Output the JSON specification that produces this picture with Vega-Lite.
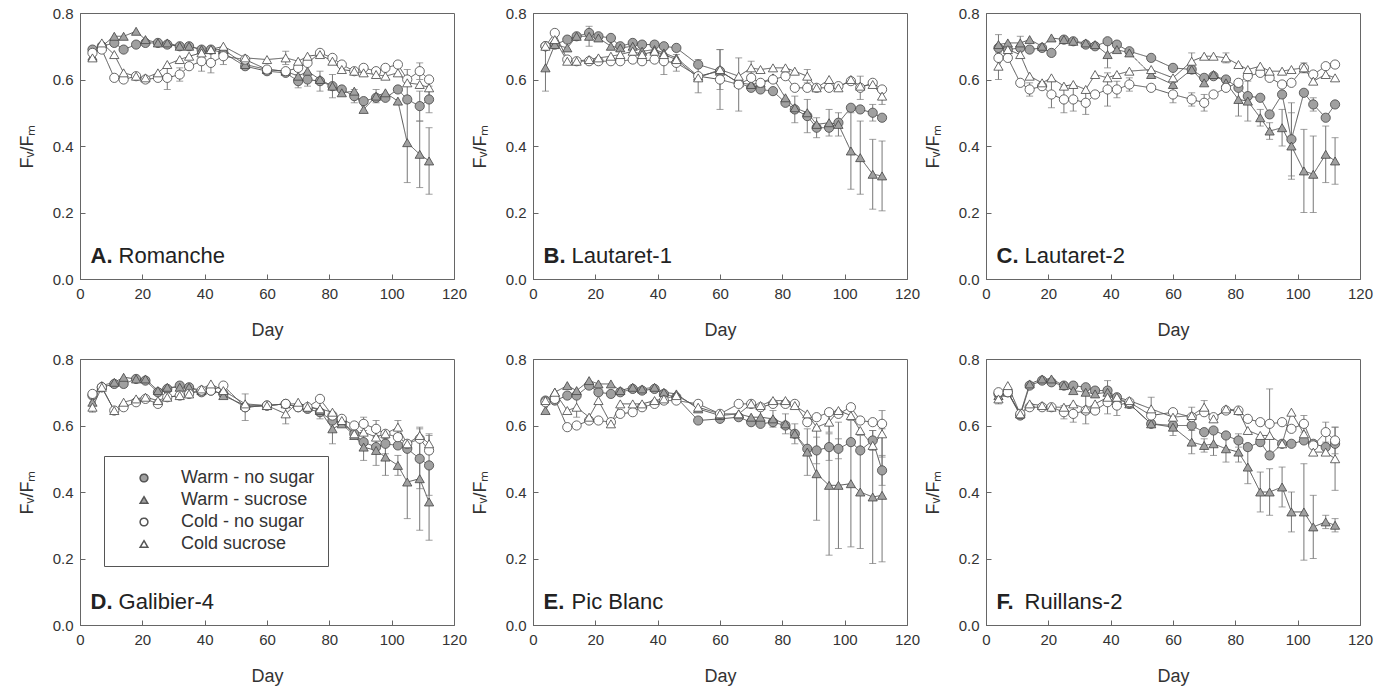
{
"$schema":"https://vega.github.io/schema/vega-lite/v6.json",
"padding":{"left":17,"top":-5,"right":5,"bottom":2},
"config":{
 "view":{"stroke":"#666","strokeWidth":1},
 "font":"Liberation Sans",
 "header":{"labels":false,"title":null,"labelExpr":"''","labelPadding":0,"titlePadding":0},
 "axis":{"grid":false,"domainColor":"#666","tickColor":"#666","tickSize":-5,"labelPadding":12,"labelFont":"Liberation Sans","labelFontSize":15,"labelColor":"#333","labelFlush":false,"labelOverlap":false,"titleFont":"Liberation Sans","titleFontSize":18,"titleFontWeight":"normal","titleColor":"#333"},
 "axisX":{"titlePadding":20},
 "axisY":{"titlePadding":16}
},
"datasets":{
"sites":[{"p":"A","l":"A.","s":"Romanche"},{"p":"B","l":"B.","s":"Lautaret-1"},{"p":"C","l":"C.","s":"Lautaret-2"},{"p":"D","l":"D.","s":"Galibier-4"},{"p":"E","l":"E.","s":"Pic Blanc"},{"p":"F","l":"F.","s":"Ruillans-2"}],
"pts":[
{"p":"A","t":"WN","d":4,"v":0.69},{"p":"A","t":"WN","d":7,"v":0.7},{"p":"A","t":"WN","d":11,"v":0.71},{"p":"A","t":"WN","d":14,"v":0.69},{"p":"A","t":"WN","d":18,"v":0.705},{"p":"A","t":"WN","d":21,"v":0.71},{"p":"A","t":"WN","d":25,"v":0.71},{"p":"A","t":"WN","d":28,"v":0.705},{"p":"A","t":"WN","d":32,"v":0.7},{"p":"A","t":"WN","d":35,"v":0.7},{"p":"A","t":"WN","d":39,"v":0.69},{"p":"A","t":"WN","d":42,"v":0.69},{"p":"A","t":"WN","d":46,"v":0.68},{"p":"A","t":"WN","d":53,"v":0.64},{"p":"A","t":"WN","d":60,"v":0.625},{"p":"A","t":"WN","d":66,"v":0.62},{"p":"A","t":"WN","d":70,"v":0.595,"e":0.02},{"p":"A","t":"WN","d":73,"v":0.6,"e":0.02},{"p":"A","t":"WN","d":77,"v":0.595,"e":0.03},{"p":"A","t":"WN","d":81,"v":0.58,"e":0.035},{"p":"A","t":"WN","d":84,"v":0.57},{"p":"A","t":"WN","d":88,"v":0.55,"e":0.02},{"p":"A","t":"WN","d":91,"v":0.535},{"p":"A","t":"WN","d":95,"v":0.545},{"p":"A","t":"WN","d":98,"v":0.545},{"p":"A","t":"WN","d":102,"v":0.57},{"p":"A","t":"WN","d":105,"v":0.54},{"p":"A","t":"WN","d":109,"v":0.52,"e":0.045},{"p":"A","t":"WN","d":112,"v":0.54,"e":0.04},
{"p":"A","t":"WS","d":4,"v":0.67},{"p":"A","t":"WS","d":7,"v":0.7},{"p":"A","t":"WS","d":11,"v":0.73},{"p":"A","t":"WS","d":14,"v":0.73},{"p":"A","t":"WS","d":18,"v":0.745},{"p":"A","t":"WS","d":21,"v":0.72},{"p":"A","t":"WS","d":25,"v":0.71},{"p":"A","t":"WS","d":28,"v":0.71},{"p":"A","t":"WS","d":32,"v":0.7},{"p":"A","t":"WS","d":35,"v":0.7},{"p":"A","t":"WS","d":39,"v":0.69},{"p":"A","t":"WS","d":42,"v":0.69},{"p":"A","t":"WS","d":46,"v":0.69},{"p":"A","t":"WS","d":53,"v":0.645},{"p":"A","t":"WS","d":60,"v":0.63},{"p":"A","t":"WS","d":66,"v":0.625},{"p":"A","t":"WS","d":70,"v":0.61},{"p":"A","t":"WS","d":73,"v":0.625},{"p":"A","t":"WS","d":77,"v":0.6},{"p":"A","t":"WS","d":81,"v":0.58},{"p":"A","t":"WS","d":84,"v":0.56},{"p":"A","t":"WS","d":88,"v":0.565},{"p":"A","t":"WS","d":91,"v":0.51},{"p":"A","t":"WS","d":95,"v":0.55,"e":0.02},{"p":"A","t":"WS","d":98,"v":0.56},{"p":"A","t":"WS","d":102,"v":0.535},{"p":"A","t":"WS","d":105,"v":0.41,"e":0.12},{"p":"A","t":"WS","d":109,"v":0.375,"e":0.1},{"p":"A","t":"WS","d":112,"v":0.355,"e":0.1},
{"p":"A","t":"CN","d":4,"v":0.68},{"p":"A","t":"CN","d":7,"v":0.69},{"p":"A","t":"CN","d":11,"v":0.605},{"p":"A","t":"CN","d":14,"v":0.6},{"p":"A","t":"CN","d":18,"v":0.61},{"p":"A","t":"CN","d":21,"v":0.6},{"p":"A","t":"CN","d":25,"v":0.605},{"p":"A","t":"CN","d":28,"v":0.605,"e":0.035},{"p":"A","t":"CN","d":32,"v":0.615,"e":0.02},{"p":"A","t":"CN","d":35,"v":0.64},{"p":"A","t":"CN","d":39,"v":0.655,"e":0.03},{"p":"A","t":"CN","d":42,"v":0.65,"e":0.03},{"p":"A","t":"CN","d":46,"v":0.67,"e":0.025},{"p":"A","t":"CN","d":53,"v":0.66},{"p":"A","t":"CN","d":60,"v":0.63},{"p":"A","t":"CN","d":66,"v":0.625},{"p":"A","t":"CN","d":70,"v":0.635},{"p":"A","t":"CN","d":73,"v":0.65},{"p":"A","t":"CN","d":77,"v":0.68},{"p":"A","t":"CN","d":81,"v":0.665},{"p":"A","t":"CN","d":84,"v":0.645},{"p":"A","t":"CN","d":88,"v":0.625},{"p":"A","t":"CN","d":91,"v":0.635},{"p":"A","t":"CN","d":95,"v":0.625},{"p":"A","t":"CN","d":98,"v":0.635},{"p":"A","t":"CN","d":102,"v":0.645},{"p":"A","t":"CN","d":105,"v":0.6},{"p":"A","t":"CN","d":109,"v":0.625,"e":0.025},{"p":"A","t":"CN","d":112,"v":0.6},
{"p":"A","t":"CS","d":4,"v":0.665},{"p":"A","t":"CS","d":7,"v":0.71},{"p":"A","t":"CS","d":11,"v":0.675},{"p":"A","t":"CS","d":14,"v":0.62},{"p":"A","t":"CS","d":18,"v":0.61},{"p":"A","t":"CS","d":21,"v":0.605},{"p":"A","t":"CS","d":25,"v":0.62},{"p":"A","t":"CS","d":28,"v":0.645},{"p":"A","t":"CS","d":32,"v":0.66},{"p":"A","t":"CS","d":35,"v":0.67},{"p":"A","t":"CS","d":39,"v":0.68},{"p":"A","t":"CS","d":42,"v":0.69},{"p":"A","t":"CS","d":46,"v":0.7},{"p":"A","t":"CS","d":53,"v":0.665},{"p":"A","t":"CS","d":60,"v":0.66},{"p":"A","t":"CS","d":66,"v":0.665,"e":0.02},{"p":"A","t":"CS","d":70,"v":0.655},{"p":"A","t":"CS","d":73,"v":0.67},{"p":"A","t":"CS","d":77,"v":0.675},{"p":"A","t":"CS","d":81,"v":0.655},{"p":"A","t":"CS","d":84,"v":0.63},{"p":"A","t":"CS","d":88,"v":0.625},{"p":"A","t":"CS","d":91,"v":0.62},{"p":"A","t":"CS","d":95,"v":0.615},{"p":"A","t":"CS","d":98,"v":0.61},{"p":"A","t":"CS","d":102,"v":0.62},{"p":"A","t":"CS","d":105,"v":0.59,"e":0.04},{"p":"A","t":"CS","d":109,"v":0.585},{"p":"A","t":"CS","d":112,"v":0.575,"e":0.03},
{"p":"B","t":"WN","d":4,"v":0.7},{"p":"B","t":"WN","d":7,"v":0.705},{"p":"B","t":"WN","d":11,"v":0.72},{"p":"B","t":"WN","d":14,"v":0.73},{"p":"B","t":"WN","d":18,"v":0.74},{"p":"B","t":"WN","d":21,"v":0.73},{"p":"B","t":"WN","d":25,"v":0.725},{"p":"B","t":"WN","d":28,"v":0.7},{"p":"B","t":"WN","d":32,"v":0.71},{"p":"B","t":"WN","d":35,"v":0.705},{"p":"B","t":"WN","d":39,"v":0.705},{"p":"B","t":"WN","d":42,"v":0.7},{"p":"B","t":"WN","d":46,"v":0.695},{"p":"B","t":"WN","d":53,"v":0.645},{"p":"B","t":"WN","d":60,"v":0.625},{"p":"B","t":"WN","d":66,"v":0.59},{"p":"B","t":"WN","d":70,"v":0.575},{"p":"B","t":"WN","d":73,"v":0.57},{"p":"B","t":"WN","d":77,"v":0.565},{"p":"B","t":"WN","d":81,"v":0.53},{"p":"B","t":"WN","d":84,"v":0.51,"e":0.04},{"p":"B","t":"WN","d":88,"v":0.49,"e":0.05},{"p":"B","t":"WN","d":91,"v":0.455,"e":0.03},{"p":"B","t":"WN","d":95,"v":0.455},{"p":"B","t":"WN","d":98,"v":0.47},{"p":"B","t":"WN","d":102,"v":0.515},{"p":"B","t":"WN","d":105,"v":0.51},{"p":"B","t":"WN","d":109,"v":0.5,"e":0.025},{"p":"B","t":"WN","d":112,"v":0.485},
{"p":"B","t":"WS","d":4,"v":0.635,"e":0.07},{"p":"B","t":"WS","d":7,"v":0.705},{"p":"B","t":"WS","d":11,"v":0.695},{"p":"B","t":"WS","d":14,"v":0.73},{"p":"B","t":"WS","d":18,"v":0.73,"e":0.03},{"p":"B","t":"WS","d":21,"v":0.725},{"p":"B","t":"WS","d":25,"v":0.7},{"p":"B","t":"WS","d":28,"v":0.695},{"p":"B","t":"WS","d":32,"v":0.7},{"p":"B","t":"WS","d":35,"v":0.685},{"p":"B","t":"WS","d":39,"v":0.69},{"p":"B","t":"WS","d":42,"v":0.68},{"p":"B","t":"WS","d":46,"v":0.665},{"p":"B","t":"WS","d":53,"v":0.61,"e":0.05},{"p":"B","t":"WS","d":60,"v":0.625},{"p":"B","t":"WS","d":66,"v":0.59},{"p":"B","t":"WS","d":70,"v":0.585},{"p":"B","t":"WS","d":73,"v":0.59},{"p":"B","t":"WS","d":77,"v":0.605},{"p":"B","t":"WS","d":81,"v":0.545},{"p":"B","t":"WS","d":84,"v":0.515},{"p":"B","t":"WS","d":88,"v":0.5},{"p":"B","t":"WS","d":91,"v":0.465},{"p":"B","t":"WS","d":95,"v":0.47,"e":0.04},{"p":"B","t":"WS","d":98,"v":0.465,"e":0.035},{"p":"B","t":"WS","d":102,"v":0.385,"e":0.115},{"p":"B","t":"WS","d":105,"v":0.365,"e":0.11},{"p":"B","t":"WS","d":109,"v":0.315,"e":0.105},{"p":"B","t":"WS","d":112,"v":0.31,"e":0.105},
{"p":"B","t":"CN","d":4,"v":0.7},{"p":"B","t":"CN","d":7,"v":0.74},{"p":"B","t":"CN","d":11,"v":0.66},{"p":"B","t":"CN","d":14,"v":0.655},{"p":"B","t":"CN","d":18,"v":0.655},{"p":"B","t":"CN","d":21,"v":0.655},{"p":"B","t":"CN","d":25,"v":0.655},{"p":"B","t":"CN","d":28,"v":0.655},{"p":"B","t":"CN","d":32,"v":0.66},{"p":"B","t":"CN","d":35,"v":0.655},{"p":"B","t":"CN","d":39,"v":0.66},{"p":"B","t":"CN","d":42,"v":0.655,"e":0.04},{"p":"B","t":"CN","d":46,"v":0.65,"e":0.025},{"p":"B","t":"CN","d":53,"v":0.61},{"p":"B","t":"CN","d":60,"v":0.6,"e":0.09},{"p":"B","t":"CN","d":66,"v":0.585,"e":0.08},{"p":"B","t":"CN","d":70,"v":0.605},{"p":"B","t":"CN","d":73,"v":0.59},{"p":"B","t":"CN","d":77,"v":0.6},{"p":"B","t":"CN","d":81,"v":0.61},{"p":"B","t":"CN","d":84,"v":0.575},{"p":"B","t":"CN","d":88,"v":0.575},{"p":"B","t":"CN","d":91,"v":0.575},{"p":"B","t":"CN","d":95,"v":0.575},{"p":"B","t":"CN","d":98,"v":0.58},{"p":"B","t":"CN","d":102,"v":0.595},{"p":"B","t":"CN","d":105,"v":0.575,"e":0.035},{"p":"B","t":"CN","d":109,"v":0.59},{"p":"B","t":"CN","d":112,"v":0.57},
{"p":"B","t":"CS","d":4,"v":0.7},{"p":"B","t":"CS","d":7,"v":0.72},{"p":"B","t":"CS","d":11,"v":0.655},{"p":"B","t":"CS","d":14,"v":0.655},{"p":"B","t":"CS","d":18,"v":0.66},{"p":"B","t":"CS","d":21,"v":0.665},{"p":"B","t":"CS","d":25,"v":0.67},{"p":"B","t":"CS","d":28,"v":0.675},{"p":"B","t":"CS","d":32,"v":0.685},{"p":"B","t":"CS","d":35,"v":0.675},{"p":"B","t":"CS","d":39,"v":0.685},{"p":"B","t":"CS","d":42,"v":0.675},{"p":"B","t":"CS","d":46,"v":0.66},{"p":"B","t":"CS","d":53,"v":0.605},{"p":"B","t":"CS","d":60,"v":0.63,"e":0.06},{"p":"B","t":"CS","d":66,"v":0.61},{"p":"B","t":"CS","d":70,"v":0.635,"e":0.02},{"p":"B","t":"CS","d":73,"v":0.63},{"p":"B","t":"CS","d":77,"v":0.635},{"p":"B","t":"CS","d":81,"v":0.635},{"p":"B","t":"CS","d":84,"v":0.625},{"p":"B","t":"CS","d":88,"v":0.61,"e":0.02},{"p":"B","t":"CS","d":91,"v":0.575},{"p":"B","t":"CS","d":95,"v":0.6},{"p":"B","t":"CS","d":98,"v":0.575},{"p":"B","t":"CS","d":102,"v":0.6},{"p":"B","t":"CS","d":105,"v":0.58},{"p":"B","t":"CS","d":109,"v":0.585},{"p":"B","t":"CS","d":112,"v":0.55,"e":0.025},
{"p":"C","t":"WN","d":4,"v":0.695},{"p":"C","t":"WN","d":7,"v":0.69},{"p":"C","t":"WN","d":11,"v":0.695},{"p":"C","t":"WN","d":14,"v":0.69},{"p":"C","t":"WN","d":18,"v":0.695},{"p":"C","t":"WN","d":21,"v":0.68},{"p":"C","t":"WN","d":25,"v":0.72},{"p":"C","t":"WN","d":28,"v":0.715},{"p":"C","t":"WN","d":32,"v":0.705},{"p":"C","t":"WN","d":35,"v":0.7},{"p":"C","t":"WN","d":39,"v":0.715},{"p":"C","t":"WN","d":42,"v":0.705},{"p":"C","t":"WN","d":46,"v":0.685},{"p":"C","t":"WN","d":53,"v":0.665},{"p":"C","t":"WN","d":60,"v":0.635},{"p":"C","t":"WN","d":66,"v":0.63},{"p":"C","t":"WN","d":70,"v":0.605},{"p":"C","t":"WN","d":73,"v":0.61},{"p":"C","t":"WN","d":77,"v":0.6},{"p":"C","t":"WN","d":81,"v":0.575},{"p":"C","t":"WN","d":84,"v":0.55},{"p":"C","t":"WN","d":88,"v":0.545},{"p":"C","t":"WN","d":91,"v":0.495},{"p":"C","t":"WN","d":95,"v":0.555},{"p":"C","t":"WN","d":98,"v":0.42,"e":0.11},{"p":"C","t":"WN","d":102,"v":0.56},{"p":"C","t":"WN","d":105,"v":0.525,"e":0.02},{"p":"C","t":"WN","d":109,"v":0.485},{"p":"C","t":"WN","d":112,"v":0.525},
{"p":"C","t":"WS","d":4,"v":0.705,"e":0.03},{"p":"C","t":"WS","d":7,"v":0.71},{"p":"C","t":"WS","d":11,"v":0.71,"e":0.02},{"p":"C","t":"WS","d":14,"v":0.72},{"p":"C","t":"WS","d":18,"v":0.7},{"p":"C","t":"WS","d":21,"v":0.725},{"p":"C","t":"WS","d":25,"v":0.72},{"p":"C","t":"WS","d":28,"v":0.715},{"p":"C","t":"WS","d":32,"v":0.71},{"p":"C","t":"WS","d":35,"v":0.705},{"p":"C","t":"WS","d":39,"v":0.675,"e":0.04},{"p":"C","t":"WS","d":42,"v":0.69},{"p":"C","t":"WS","d":46,"v":0.68},{"p":"C","t":"WS","d":53,"v":0.615},{"p":"C","t":"WS","d":60,"v":0.585},{"p":"C","t":"WS","d":66,"v":0.63},{"p":"C","t":"WS","d":70,"v":0.59},{"p":"C","t":"WS","d":73,"v":0.615},{"p":"C","t":"WS","d":77,"v":0.59},{"p":"C","t":"WS","d":81,"v":0.54,"e":0.05},{"p":"C","t":"WS","d":84,"v":0.535,"e":0.06},{"p":"C","t":"WS","d":88,"v":0.485,"e":0.025},{"p":"C","t":"WS","d":91,"v":0.445,"e":0.025},{"p":"C","t":"WS","d":95,"v":0.455,"e":0.055},{"p":"C","t":"WS","d":98,"v":0.4,"e":0.1},{"p":"C","t":"WS","d":102,"v":0.325,"e":0.125},{"p":"C","t":"WS","d":105,"v":0.315,"e":0.115},{"p":"C","t":"WS","d":109,"v":0.375,"e":0.085},{"p":"C","t":"WS","d":112,"v":0.355,"e":0.07},
{"p":"C","t":"CN","d":4,"v":0.665},{"p":"C","t":"CN","d":7,"v":0.665},{"p":"C","t":"CN","d":11,"v":0.59},{"p":"C","t":"CN","d":14,"v":0.57,"e":0.02},{"p":"C","t":"CN","d":18,"v":0.58},{"p":"C","t":"CN","d":21,"v":0.555,"e":0.04},{"p":"C","t":"CN","d":25,"v":0.54,"e":0.04},{"p":"C","t":"CN","d":28,"v":0.54,"e":0.035},{"p":"C","t":"CN","d":32,"v":0.53,"e":0.035},{"p":"C","t":"CN","d":35,"v":0.555},{"p":"C","t":"CN","d":39,"v":0.57,"e":0.05},{"p":"C","t":"CN","d":42,"v":0.57,"e":0.025},{"p":"C","t":"CN","d":46,"v":0.585,"e":0.02},{"p":"C","t":"CN","d":53,"v":0.575},{"p":"C","t":"CN","d":60,"v":0.555,"e":0.025},{"p":"C","t":"CN","d":66,"v":0.54,"e":0.02},{"p":"C","t":"CN","d":70,"v":0.53,"e":0.025},{"p":"C","t":"CN","d":73,"v":0.555},{"p":"C","t":"CN","d":77,"v":0.575},{"p":"C","t":"CN","d":81,"v":0.59},{"p":"C","t":"CN","d":84,"v":0.61},{"p":"C","t":"CN","d":88,"v":0.62},{"p":"C","t":"CN","d":91,"v":0.605},{"p":"C","t":"CN","d":95,"v":0.585},{"p":"C","t":"CN","d":98,"v":0.59},{"p":"C","t":"CN","d":102,"v":0.635},{"p":"C","t":"CN","d":105,"v":0.615},{"p":"C","t":"CN","d":109,"v":0.64},{"p":"C","t":"CN","d":112,"v":0.645},
{"p":"C","t":"CS","d":4,"v":0.64,"e":0.04},{"p":"C","t":"CS","d":7,"v":0.69},{"p":"C","t":"CS","d":11,"v":0.675},{"p":"C","t":"CS","d":14,"v":0.61},{"p":"C","t":"CS","d":18,"v":0.59},{"p":"C","t":"CS","d":21,"v":0.605},{"p":"C","t":"CS","d":25,"v":0.58},{"p":"C","t":"CS","d":28,"v":0.585},{"p":"C","t":"CS","d":32,"v":0.57},{"p":"C","t":"CS","d":35,"v":0.615},{"p":"C","t":"CS","d":39,"v":0.605},{"p":"C","t":"CS","d":42,"v":0.615},{"p":"C","t":"CS","d":46,"v":0.625},{"p":"C","t":"CS","d":53,"v":0.63},{"p":"C","t":"CS","d":60,"v":0.605},{"p":"C","t":"CS","d":66,"v":0.655,"e":0.025},{"p":"C","t":"CS","d":70,"v":0.67},{"p":"C","t":"CS","d":73,"v":0.67},{"p":"C","t":"CS","d":77,"v":0.665,"e":0.015},{"p":"C","t":"CS","d":81,"v":0.645},{"p":"C","t":"CS","d":84,"v":0.63},{"p":"C","t":"CS","d":88,"v":0.64},{"p":"C","t":"CS","d":91,"v":0.625},{"p":"C","t":"CS","d":95,"v":0.625},{"p":"C","t":"CS","d":98,"v":0.63},{"p":"C","t":"CS","d":102,"v":0.635,"e":0.015},{"p":"C","t":"CS","d":105,"v":0.595},{"p":"C","t":"CS","d":109,"v":0.615},{"p":"C","t":"CS","d":112,"v":0.605},
{"p":"D","t":"WN","d":4,"v":0.69},{"p":"D","t":"WN","d":7,"v":0.715},{"p":"D","t":"WN","d":11,"v":0.725},{"p":"D","t":"WN","d":14,"v":0.725},{"p":"D","t":"WN","d":18,"v":0.74},{"p":"D","t":"WN","d":21,"v":0.735},{"p":"D","t":"WN","d":25,"v":0.7},{"p":"D","t":"WN","d":28,"v":0.71},{"p":"D","t":"WN","d":32,"v":0.72},{"p":"D","t":"WN","d":35,"v":0.715},{"p":"D","t":"WN","d":39,"v":0.7},{"p":"D","t":"WN","d":42,"v":0.705},{"p":"D","t":"WN","d":46,"v":0.695},{"p":"D","t":"WN","d":53,"v":0.655},{"p":"D","t":"WN","d":60,"v":0.66},{"p":"D","t":"WN","d":66,"v":0.665},{"p":"D","t":"WN","d":70,"v":0.655},{"p":"D","t":"WN","d":73,"v":0.65},{"p":"D","t":"WN","d":77,"v":0.64},{"p":"D","t":"WN","d":81,"v":0.615},{"p":"D","t":"WN","d":84,"v":0.61},{"p":"D","t":"WN","d":88,"v":0.575},{"p":"D","t":"WN","d":91,"v":0.55},{"p":"D","t":"WN","d":95,"v":0.535},{"p":"D","t":"WN","d":98,"v":0.545,"e":0.03},{"p":"D","t":"WN","d":102,"v":0.54},{"p":"D","t":"WN","d":105,"v":0.53},{"p":"D","t":"WN","d":109,"v":0.5,"e":0.09},{"p":"D","t":"WN","d":112,"v":0.48,"e":0.09},
{"p":"D","t":"WS","d":4,"v":0.67},{"p":"D","t":"WS","d":7,"v":0.72},{"p":"D","t":"WS","d":11,"v":0.73},{"p":"D","t":"WS","d":14,"v":0.745},{"p":"D","t":"WS","d":18,"v":0.74},{"p":"D","t":"WS","d":21,"v":0.74},{"p":"D","t":"WS","d":25,"v":0.705},{"p":"D","t":"WS","d":28,"v":0.715},{"p":"D","t":"WS","d":32,"v":0.715},{"p":"D","t":"WS","d":35,"v":0.715},{"p":"D","t":"WS","d":39,"v":0.705},{"p":"D","t":"WS","d":42,"v":0.71},{"p":"D","t":"WS","d":46,"v":0.69},{"p":"D","t":"WS","d":53,"v":0.66},{"p":"D","t":"WS","d":60,"v":0.66},{"p":"D","t":"WS","d":66,"v":0.665},{"p":"D","t":"WS","d":70,"v":0.665},{"p":"D","t":"WS","d":73,"v":0.66},{"p":"D","t":"WS","d":77,"v":0.645},{"p":"D","t":"WS","d":81,"v":0.59,"e":0.045},{"p":"D","t":"WS","d":84,"v":0.605},{"p":"D","t":"WS","d":88,"v":0.57},{"p":"D","t":"WS","d":91,"v":0.535,"e":0.04},{"p":"D","t":"WS","d":95,"v":0.525,"e":0.045},{"p":"D","t":"WS","d":98,"v":0.505,"e":0.055},{"p":"D","t":"WS","d":102,"v":0.48,"e":0.03},{"p":"D","t":"WS","d":105,"v":0.43,"e":0.11},{"p":"D","t":"WS","d":109,"v":0.44,"e":0.155},{"p":"D","t":"WS","d":112,"v":0.37,"e":0.115},
{"p":"D","t":"CN","d":4,"v":0.695},{"p":"D","t":"CN","d":7,"v":0.715},{"p":"D","t":"CN","d":11,"v":0.645},{"p":"D","t":"CN","d":14,"v":0.655},{"p":"D","t":"CN","d":18,"v":0.67},{"p":"D","t":"CN","d":21,"v":0.68},{"p":"D","t":"CN","d":25,"v":0.665},{"p":"D","t":"CN","d":28,"v":0.685},{"p":"D","t":"CN","d":32,"v":0.69},{"p":"D","t":"CN","d":35,"v":0.695},{"p":"D","t":"CN","d":39,"v":0.705},{"p":"D","t":"CN","d":42,"v":0.705},{"p":"D","t":"CN","d":46,"v":0.72},{"p":"D","t":"CN","d":53,"v":0.655,"e":0.04},{"p":"D","t":"CN","d":60,"v":0.66},{"p":"D","t":"CN","d":66,"v":0.665},{"p":"D","t":"CN","d":70,"v":0.655},{"p":"D","t":"CN","d":73,"v":0.655},{"p":"D","t":"CN","d":77,"v":0.68},{"p":"D","t":"CN","d":81,"v":0.63},{"p":"D","t":"CN","d":84,"v":0.62},{"p":"D","t":"CN","d":88,"v":0.6},{"p":"D","t":"CN","d":91,"v":0.605,"e":0.02},{"p":"D","t":"CN","d":95,"v":0.59,"e":0.025},{"p":"D","t":"CN","d":98,"v":0.575},{"p":"D","t":"CN","d":102,"v":0.565},{"p":"D","t":"CN","d":105,"v":0.545},{"p":"D","t":"CN","d":109,"v":0.56},{"p":"D","t":"CN","d":112,"v":0.525},
{"p":"D","t":"CS","d":4,"v":0.655,"e":0.015},{"p":"D","t":"CS","d":7,"v":0.715},{"p":"D","t":"CS","d":11,"v":0.645},{"p":"D","t":"CS","d":14,"v":0.67},{"p":"D","t":"CS","d":18,"v":0.68},{"p":"D","t":"CS","d":21,"v":0.685},{"p":"D","t":"CS","d":25,"v":0.675},{"p":"D","t":"CS","d":28,"v":0.685},{"p":"D","t":"CS","d":32,"v":0.69},{"p":"D","t":"CS","d":35,"v":0.695},{"p":"D","t":"CS","d":39,"v":0.71},{"p":"D","t":"CS","d":42,"v":0.725},{"p":"D","t":"CS","d":46,"v":0.705},{"p":"D","t":"CS","d":53,"v":0.665},{"p":"D","t":"CS","d":60,"v":0.66},{"p":"D","t":"CS","d":66,"v":0.635,"e":0.03},{"p":"D","t":"CS","d":70,"v":0.67},{"p":"D","t":"CS","d":73,"v":0.655},{"p":"D","t":"CS","d":77,"v":0.65,"e":0.03},{"p":"D","t":"CS","d":81,"v":0.64},{"p":"D","t":"CS","d":84,"v":0.615},{"p":"D","t":"CS","d":88,"v":0.575},{"p":"D","t":"CS","d":91,"v":0.58},{"p":"D","t":"CS","d":95,"v":0.565},{"p":"D","t":"CS","d":98,"v":0.575},{"p":"D","t":"CS","d":102,"v":0.595,"e":0.02},{"p":"D","t":"CS","d":105,"v":0.545},{"p":"D","t":"CS","d":109,"v":0.57},{"p":"D","t":"CS","d":112,"v":0.545,"e":0.03},
{"p":"E","t":"WN","d":4,"v":0.675},{"p":"E","t":"WN","d":7,"v":0.675},{"p":"E","t":"WN","d":11,"v":0.69},{"p":"E","t":"WN","d":14,"v":0.69},{"p":"E","t":"WN","d":18,"v":0.72},{"p":"E","t":"WN","d":21,"v":0.7},{"p":"E","t":"WN","d":25,"v":0.695},{"p":"E","t":"WN","d":28,"v":0.7},{"p":"E","t":"WN","d":32,"v":0.71},{"p":"E","t":"WN","d":35,"v":0.705},{"p":"E","t":"WN","d":39,"v":0.71},{"p":"E","t":"WN","d":42,"v":0.695},{"p":"E","t":"WN","d":46,"v":0.685},{"p":"E","t":"WN","d":53,"v":0.615},{"p":"E","t":"WN","d":60,"v":0.62},{"p":"E","t":"WN","d":66,"v":0.625},{"p":"E","t":"WN","d":70,"v":0.61},{"p":"E","t":"WN","d":73,"v":0.605},{"p":"E","t":"WN","d":77,"v":0.61},{"p":"E","t":"WN","d":81,"v":0.6},{"p":"E","t":"WN","d":84,"v":0.575},{"p":"E","t":"WN","d":88,"v":0.53},{"p":"E","t":"WN","d":91,"v":0.525,"e":0.04},{"p":"E","t":"WN","d":95,"v":0.535,"e":0.04},{"p":"E","t":"WN","d":98,"v":0.53,"e":0.03},{"p":"E","t":"WN","d":102,"v":0.55},{"p":"E","t":"WN","d":105,"v":0.525},{"p":"E","t":"WN","d":109,"v":0.555,"e":0.03},{"p":"E","t":"WN","d":112,"v":0.465,"e":0.045},
{"p":"E","t":"WS","d":4,"v":0.645},{"p":"E","t":"WS","d":7,"v":0.7},{"p":"E","t":"WS","d":11,"v":0.72},{"p":"E","t":"WS","d":14,"v":0.705},{"p":"E","t":"WS","d":18,"v":0.735},{"p":"E","t":"WS","d":21,"v":0.725},{"p":"E","t":"WS","d":25,"v":0.725},{"p":"E","t":"WS","d":28,"v":0.705},{"p":"E","t":"WS","d":32,"v":0.715},{"p":"E","t":"WS","d":35,"v":0.71},{"p":"E","t":"WS","d":39,"v":0.715},{"p":"E","t":"WS","d":42,"v":0.7},{"p":"E","t":"WS","d":46,"v":0.695},{"p":"E","t":"WS","d":53,"v":0.65},{"p":"E","t":"WS","d":60,"v":0.63},{"p":"E","t":"WS","d":66,"v":0.635},{"p":"E","t":"WS","d":70,"v":0.625},{"p":"E","t":"WS","d":73,"v":0.625,"e":0.02},{"p":"E","t":"WS","d":77,"v":0.62,"e":0.025},{"p":"E","t":"WS","d":81,"v":0.605,"e":0.03},{"p":"E","t":"WS","d":84,"v":0.575,"e":0.03},{"p":"E","t":"WS","d":88,"v":0.52,"e":0.07},{"p":"E","t":"WS","d":91,"v":0.455,"e":0.14},{"p":"E","t":"WS","d":95,"v":0.42,"e":0.21},{"p":"E","t":"WS","d":98,"v":0.42,"e":0.19},{"p":"E","t":"WS","d":102,"v":0.425,"e":0.19},{"p":"E","t":"WS","d":105,"v":0.4,"e":0.17},{"p":"E","t":"WS","d":109,"v":0.385,"e":0.2},{"p":"E","t":"WS","d":112,"v":0.39,"e":0.2},
{"p":"E","t":"CN","d":4,"v":0.67},{"p":"E","t":"CN","d":7,"v":0.68},{"p":"E","t":"CN","d":11,"v":0.595},{"p":"E","t":"CN","d":14,"v":0.6},{"p":"E","t":"CN","d":18,"v":0.615},{"p":"E","t":"CN","d":21,"v":0.615},{"p":"E","t":"CN","d":25,"v":0.61},{"p":"E","t":"CN","d":28,"v":0.635},{"p":"E","t":"CN","d":32,"v":0.64},{"p":"E","t":"CN","d":35,"v":0.655},{"p":"E","t":"CN","d":39,"v":0.665},{"p":"E","t":"CN","d":42,"v":0.675},{"p":"E","t":"CN","d":46,"v":0.675},{"p":"E","t":"CN","d":53,"v":0.665},{"p":"E","t":"CN","d":60,"v":0.635},{"p":"E","t":"CN","d":66,"v":0.665},{"p":"E","t":"CN","d":70,"v":0.665},{"p":"E","t":"CN","d":73,"v":0.655},{"p":"E","t":"CN","d":77,"v":0.665},{"p":"E","t":"CN","d":81,"v":0.665},{"p":"E","t":"CN","d":84,"v":0.665},{"p":"E","t":"CN","d":88,"v":0.61},{"p":"E","t":"CN","d":91,"v":0.625},{"p":"E","t":"CN","d":95,"v":0.64},{"p":"E","t":"CN","d":98,"v":0.635},{"p":"E","t":"CN","d":102,"v":0.655},{"p":"E","t":"CN","d":105,"v":0.615},{"p":"E","t":"CN","d":109,"v":0.61},{"p":"E","t":"CN","d":112,"v":0.605},
{"p":"E","t":"CS","d":4,"v":0.675},{"p":"E","t":"CS","d":7,"v":0.7},{"p":"E","t":"CS","d":11,"v":0.645},{"p":"E","t":"CS","d":14,"v":0.655,"e":0.03},{"p":"E","t":"CS","d":18,"v":0.625},{"p":"E","t":"CS","d":21,"v":0.675},{"p":"E","t":"CS","d":25,"v":0.605},{"p":"E","t":"CS","d":28,"v":0.665},{"p":"E","t":"CS","d":32,"v":0.665},{"p":"E","t":"CS","d":35,"v":0.665},{"p":"E","t":"CS","d":39,"v":0.675},{"p":"E","t":"CS","d":42,"v":0.68},{"p":"E","t":"CS","d":46,"v":0.69},{"p":"E","t":"CS","d":53,"v":0.655},{"p":"E","t":"CS","d":60,"v":0.635},{"p":"E","t":"CS","d":66,"v":0.635},{"p":"E","t":"CS","d":70,"v":0.665},{"p":"E","t":"CS","d":73,"v":0.66},{"p":"E","t":"CS","d":77,"v":0.675},{"p":"E","t":"CS","d":81,"v":0.675},{"p":"E","t":"CS","d":84,"v":0.66},{"p":"E","t":"CS","d":88,"v":0.635},{"p":"E","t":"CS","d":91,"v":0.595},{"p":"E","t":"CS","d":95,"v":0.61,"e":0.03},{"p":"E","t":"CS","d":98,"v":0.645},{"p":"E","t":"CS","d":102,"v":0.63},{"p":"E","t":"CS","d":105,"v":0.585},{"p":"E","t":"CS","d":109,"v":0.54},{"p":"E","t":"CS","d":112,"v":0.575,"e":0.07},
{"p":"F","t":"WN","d":4,"v":0.695},{"p":"F","t":"WN","d":7,"v":0.7},{"p":"F","t":"WN","d":11,"v":0.63},{"p":"F","t":"WN","d":14,"v":0.72},{"p":"F","t":"WN","d":18,"v":0.735},{"p":"F","t":"WN","d":21,"v":0.73},{"p":"F","t":"WN","d":25,"v":0.72},{"p":"F","t":"WN","d":28,"v":0.72},{"p":"F","t":"WN","d":32,"v":0.715},{"p":"F","t":"WN","d":35,"v":0.705},{"p":"F","t":"WN","d":39,"v":0.705},{"p":"F","t":"WN","d":42,"v":0.685},{"p":"F","t":"WN","d":46,"v":0.665},{"p":"F","t":"WN","d":53,"v":0.605},{"p":"F","t":"WN","d":60,"v":0.6},{"p":"F","t":"WN","d":66,"v":0.6},{"p":"F","t":"WN","d":70,"v":0.58},{"p":"F","t":"WN","d":73,"v":0.585},{"p":"F","t":"WN","d":77,"v":0.57},{"p":"F","t":"WN","d":81,"v":0.555,"e":0.02},{"p":"F","t":"WN","d":84,"v":0.535},{"p":"F","t":"WN","d":88,"v":0.55},{"p":"F","t":"WN","d":91,"v":0.51},{"p":"F","t":"WN","d":95,"v":0.545},{"p":"F","t":"WN","d":98,"v":0.545},{"p":"F","t":"WN","d":102,"v":0.555},{"p":"F","t":"WN","d":105,"v":0.545},{"p":"F","t":"WN","d":109,"v":0.535},{"p":"F","t":"WN","d":112,"v":0.545},
{"p":"F","t":"WS","d":4,"v":0.69},{"p":"F","t":"WS","d":7,"v":0.7},{"p":"F","t":"WS","d":11,"v":0.635},{"p":"F","t":"WS","d":14,"v":0.725},{"p":"F","t":"WS","d":18,"v":0.74},{"p":"F","t":"WS","d":21,"v":0.74},{"p":"F","t":"WS","d":25,"v":0.72},{"p":"F","t":"WS","d":28,"v":0.705},{"p":"F","t":"WS","d":32,"v":0.7},{"p":"F","t":"WS","d":35,"v":0.695},{"p":"F","t":"WS","d":39,"v":0.7},{"p":"F","t":"WS","d":42,"v":0.68},{"p":"F","t":"WS","d":46,"v":0.665},{"p":"F","t":"WS","d":53,"v":0.605},{"p":"F","t":"WS","d":60,"v":0.595,"e":0.025},{"p":"F","t":"WS","d":66,"v":0.55,"e":0.035},{"p":"F","t":"WS","d":70,"v":0.54,"e":0.02},{"p":"F","t":"WS","d":73,"v":0.545,"e":0.035},{"p":"F","t":"WS","d":77,"v":0.53,"e":0.04},{"p":"F","t":"WS","d":81,"v":0.52,"e":0.03},{"p":"F","t":"WS","d":84,"v":0.475,"e":0.05},{"p":"F","t":"WS","d":88,"v":0.4,"e":0.06},{"p":"F","t":"WS","d":91,"v":0.4,"e":0.07},{"p":"F","t":"WS","d":95,"v":0.415,"e":0.06},{"p":"F","t":"WS","d":98,"v":0.34,"e":0.06},{"p":"F","t":"WS","d":102,"v":0.34,"e":0.145},{"p":"F","t":"WS","d":105,"v":0.295,"e":0.095},{"p":"F","t":"WS","d":109,"v":0.31,"e":0.02},{"p":"F","t":"WS","d":112,"v":0.3,"e":0.02},
{"p":"F","t":"CN","d":4,"v":0.7},{"p":"F","t":"CN","d":7,"v":0.7},{"p":"F","t":"CN","d":11,"v":0.635},{"p":"F","t":"CN","d":14,"v":0.655},{"p":"F","t":"CN","d":18,"v":0.655},{"p":"F","t":"CN","d":21,"v":0.655},{"p":"F","t":"CN","d":25,"v":0.64,"e":0.02},{"p":"F","t":"CN","d":28,"v":0.635,"e":0.025},{"p":"F","t":"CN","d":32,"v":0.645},{"p":"F","t":"CN","d":35,"v":0.645},{"p":"F","t":"CN","d":39,"v":0.67},{"p":"F","t":"CN","d":42,"v":0.66,"e":0.03},{"p":"F","t":"CN","d":46,"v":0.67},{"p":"F","t":"CN","d":53,"v":0.63},{"p":"F","t":"CN","d":60,"v":0.64},{"p":"F","t":"CN","d":66,"v":0.625},{"p":"F","t":"CN","d":70,"v":0.64},{"p":"F","t":"CN","d":73,"v":0.625},{"p":"F","t":"CN","d":77,"v":0.645},{"p":"F","t":"CN","d":81,"v":0.645},{"p":"F","t":"CN","d":84,"v":0.62},{"p":"F","t":"CN","d":88,"v":0.61},{"p":"F","t":"CN","d":91,"v":0.605,"e":0.105},{"p":"F","t":"CN","d":95,"v":0.61},{"p":"F","t":"CN","d":98,"v":0.59},{"p":"F","t":"CN","d":102,"v":0.605,"e":0.025},{"p":"F","t":"CN","d":105,"v":0.54},{"p":"F","t":"CN","d":109,"v":0.58,"e":0.03},{"p":"F","t":"CN","d":112,"v":0.555,"e":0.04},
{"p":"F","t":"CS","d":4,"v":0.68,"e":0.015},{"p":"F","t":"CS","d":7,"v":0.72},{"p":"F","t":"CS","d":11,"v":0.635},{"p":"F","t":"CS","d":14,"v":0.665},{"p":"F","t":"CS","d":18,"v":0.66},{"p":"F","t":"CS","d":21,"v":0.655},{"p":"F","t":"CS","d":25,"v":0.655},{"p":"F","t":"CS","d":28,"v":0.665},{"p":"F","t":"CS","d":32,"v":0.65,"e":0.045},{"p":"F","t":"CS","d":35,"v":0.665},{"p":"F","t":"CS","d":39,"v":0.685,"e":0.05},{"p":"F","t":"CS","d":42,"v":0.685},{"p":"F","t":"CS","d":46,"v":0.675},{"p":"F","t":"CS","d":53,"v":0.65,"e":0.035},{"p":"F","t":"CS","d":60,"v":0.625,"e":0.02},{"p":"F","t":"CS","d":66,"v":0.63,"e":0.025},{"p":"F","t":"CS","d":70,"v":0.655,"e":0.02},{"p":"F","t":"CS","d":73,"v":0.62},{"p":"F","t":"CS","d":77,"v":0.65},{"p":"F","t":"CS","d":81,"v":0.645},{"p":"F","t":"CS","d":84,"v":0.585},{"p":"F","t":"CS","d":88,"v":0.57},{"p":"F","t":"CS","d":91,"v":0.57},{"p":"F","t":"CS","d":95,"v":0.545},{"p":"F","t":"CS","d":98,"v":0.64},{"p":"F","t":"CS","d":102,"v":0.575},{"p":"F","t":"CS","d":105,"v":0.52},{"p":"F","t":"CS","d":109,"v":0.52},{"p":"F","t":"CS","d":112,"v":0.5,"e":0.095}
]},
"data":{"name":"pts"},
"transform":[{"lookup":"p","from":{"data":{"name":"sites"},"key":"p","fields":["l","s"]}}],
"facet":{"field":"p","type":"nominal","header":{"title":null,"labels":false,"labelExpr":"''","labelPadding":0}},
"columns":3,
"spacing":{"row":80,"column":79},
"bounds":"flush",
"resolve":{"axis":{"x":"independent","y":"independent"}},
"spec":{
 "width":374,"height":266,
 "layer":[
  {"transform":[{"filter":"datum.e > 0"}],
   "mark":{"type":"errorbar","rule":{"color":"#777","strokeWidth":1},"ticks":{"color":"#777","size":7}},
   "encoding":{
    "x":{"field":"d","type":"quantitative","scale":{"domain":[0,120],"nice":false},"axis":{"title":"Day","values":[0,20,40,60,80,100,120]}},
    "y":{"field":"v","type":"quantitative","scale":{"domain":[0,0.8],"nice":false},"axis":{"title":"Fᵥ/Fₘ","values":[0,0.2,0.4,0.6,0.8],"format":".1f"}},
    "yError":{"field":"e"}}},
  {"mark":{"type":"line","color":"#555","strokeWidth":1},
   "encoding":{
    "x":{"field":"d","type":"quantitative","scale":{"domain":[0,120],"nice":false},"axis":{"title":"Day","values":[0,20,40,60,80,100,120]}},
    "y":{"field":"v","type":"quantitative","scale":{"domain":[0,0.8],"nice":false},"axis":{"title":"Fᵥ/Fₘ","values":[0,0.2,0.4,0.6,0.8],"format":".1f"}},
    "strokeDash":{"field":"t","type":"nominal","scale":{"domain":["WN","WS","CN","CS"],"range":[[1,0],[1,0],[1,0],[1,0]]},
      "legend":{"title":null,"orient":"none","legendX":24,"legendY":443,"labelExpr":"{'WN':'Warm - no sugar','WS':'Warm - sucrose','CN':'Cold - no sugar','CS':'Cold sucrose'}[datum.value]","labelFont":"Liberation Sans","labelFontSize":18,"labelColor":"#333","strokeColor":"#555","fillColor":"white","padding":13,"symbolOffset":18,"labelOffset":28,"rowPadding":4,"symbolSize":60,
       "encode":{"symbols":{"stroke":{"value":"#555"},"strokeWidth":{"value":1},"fill":{"signal":"datum.index < 2 ? '#a3a3a3' : '#ffffff'"},"fillOpacity":{"value":1}}}}},
    "detail":{"field":"t"},"order":{"field":"d"}}},
  {"mark":{"type":"point","filled":true,"size":85,"stroke":"#444","strokeWidth":0.8,"opacity":1},
   "encoding":{
    "x":{"field":"d","type":"quantitative","scale":{"domain":[0,120],"nice":false},"axis":{"title":"Day","values":[0,20,40,60,80,100,120]}},
    "y":{"field":"v","type":"quantitative","scale":{"domain":[0,0.8],"nice":false},"axis":{"title":"Fᵥ/Fₘ","values":[0,0.2,0.4,0.6,0.8],"format":".1f"}},
    "shape":{"field":"t","type":"nominal","scale":{"domain":["WN","WS","CN","CS"],"range":["circle","triangle-up","circle","triangle-up"]},"legend":null},
    "fill":{"field":"t","type":"nominal","scale":{"domain":["WN","WS","CN","CS"],"range":["#a0a0a0","#a0a0a0","#ffffff","#ffffff"]},"legend":null}}},
  {"transform":[{"filter":"datum.t == 'WN' && datum.d == 4"}],
   "mark":{"type":"text","font":"Liberation Sans","fontSize":22,"fontWeight":"bold","align":"left","baseline":"alphabetic","color":"#222"},
   "encoding":{"x":{"datum":3.4,"type":"quantitative"},"y":{"datum":0.048,"type":"quantitative"},"text":{"field":"l"}}},
  {"transform":[{"filter":"datum.t == 'WN' && datum.d == 4"}],
   "mark":{"type":"text","font":"Liberation Sans","fontSize":22,"align":"left","baseline":"alphabetic","color":"#222","dx":28},
   "encoding":{"x":{"datum":3.4,"type":"quantitative"},"y":{"datum":0.048,"type":"quantitative"},"text":{"field":"s"}}}
 ]
}
}
